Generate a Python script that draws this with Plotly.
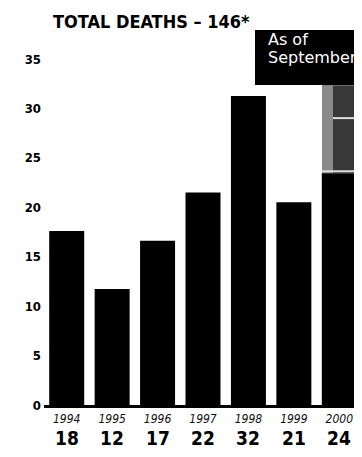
import plotly.graph_objects as go

years = ["1994", "1995", "1996", "1997", "1998", "1999", "2000"]
deaths = [18, 12, 17, 22, 32, 21, 24]
y_ticks = [0, 5, 10, 15, 20, 25, 30, 35]
title_text = "TOTAL DEATHS – 146*"
note_lines = ["As of", "September"]

COND = "DejaVu Sans Condensed, Liberation Sans Narrow, sans-serif"

# page body adds an 8px margin, so the figure is 8px smaller than the window
W, H = 354, 449
L, T, B = 36, 42, 52
PH = H - T - B  # plot height in px
PW = W - L

def px_y(py):
    """figure-pixel y -> paper y"""
    return (H - B - py) / PH

def px_x(px):
    return (px - L) / PW

fig = go.Figure()
fig.add_trace(go.Bar(
    x=years, y=deaths, marker=dict(color="black", line=dict(width=0)),
    width=0.77, showlegend=False, hoverinfo="x+y",
))
fig.add_trace(go.Scatter(x=[years[0]], y=[0], yaxis="y2", mode="markers",
                         marker=dict(opacity=0), showlegend=False, hoverinfo="skip"))

fig.update_layout(
    width=W, height=H, autosize=False,
    margin=dict(l=L, r=0, t=T, b=B, pad=0),
    paper_bgcolor="white", plot_bgcolor="white",
    font=dict(family=COND, color="black"),
    xaxis=dict(
        type="category", range=[-0.5, 6.5],
        tickmode="array", tickvals=years, ticktext=years,
        tickfont=dict(size=12, family=COND, color="#111", style="italic"),
        showline=True, linecolor="black", linewidth=3,
        showgrid=False, ticks="", ticklabelstandoff=1,
    ),
    yaxis=dict(range=[0, PH / 9.66], showticklabels=False, showgrid=False,
               zeroline=False, ticks=""),
    yaxis2=dict(range=[0, PH / 9.886], overlaying="y", side="left",
                tickmode="array", tickvals=y_ticks,
                tickfont=dict(size=13, family=COND, color="black", weight="bold"),
                showgrid=False, zeroline=False, ticks="", showline=False,
                ticklabelstandoff=2),
)

# bold totals under the years (category index positions)
for i, d in enumerate(deaths):
    fig.add_annotation(text=f"<b>{d}</b>", xref="x", yref="paper", x=i, y=px_y(430),
                       xanchor="center", yanchor="middle", showarrow=False,
                       font=dict(size=19, family=COND, color="black"))

# dark textured photo patch above the 2000 bar
fig.add_shape(type="rect", xref="paper", yref="y", x0=px_x(314), x1=1.0,
              y0=deaths[-1], y1=33.1, fillcolor="#383838", line=dict(width=0),
              layer="below")
fig.add_shape(type="rect", xref="paper", yref="y", x0=px_x(314), x1=px_x(325),
              y0=deaths[-1], y1=33.1, fillcolor="#8a8a8a", line=dict(width=0),
              layer="below")
fig.add_shape(type="line", xref="paper", yref="y", x0=px_x(325), x1=1.0,
              y0=29.7, y1=29.7, line=dict(color="#dddddd", width=2))
fig.add_shape(type="line", xref="paper", yref="y", x0=px_x(314), x1=1.0,
              y0=24.2, y1=24.2, line=dict(color="#dddddd", width=2))

# "As of September" box
fig.add_shape(type="rect", xref="paper", yref="paper", x0=px_x(247), x1=1.0,
              y0=px_y(77), y1=px_y(22), fillcolor="black", line=dict(width=0))
for txt, py in zip(note_lines, [31, 50]):
    fig.add_annotation(text=txt, xref="paper", yref="paper", x=px_x(258), y=px_y(py),
                       xanchor="left", yanchor="middle", align="left", showarrow=False,
                       font=dict(size=16, color="white", family="DejaVu Sans, sans-serif"))

fig.add_annotation(text=f"<b>{title_text}</b>", xref="paper", yref="paper",
                   x=px_x(43), y=px_y(13), xanchor="left", yanchor="middle",
                   showarrow=False, font=dict(size=18, family=COND, color="black"))

fig.write_html("out.html")
